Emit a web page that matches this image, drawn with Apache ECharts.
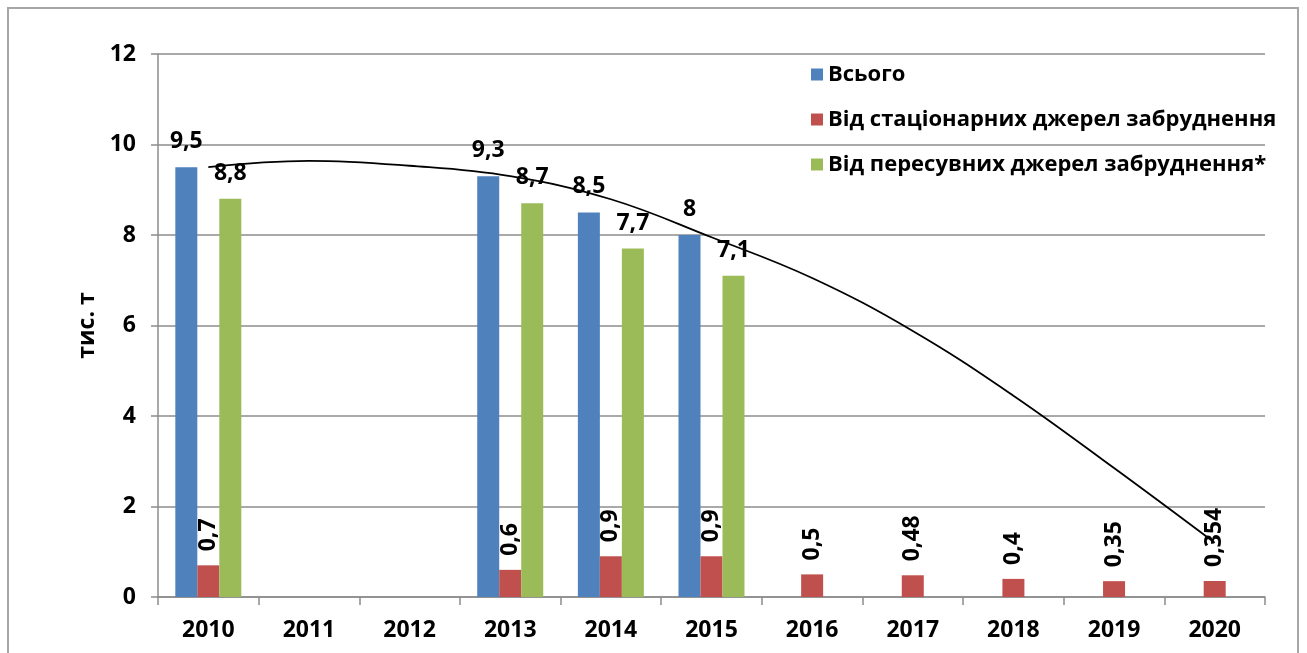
<!DOCTYPE html>
<html lang="uk">
<head>
    <meta charset="UTF-8">
    <title>Викиди</title>
    <script src="https://cdn.jsdelivr.net/npm/echarts@6/dist/echarts.min.js"></script>
    <style>
        html, body { margin: 0; padding: 0; background: #fff; }
        #frame { position: absolute; left: 7px; top: 7px; width: 1288px; height: 700px; border: 2px solid #a6a6a6; }
        #main { position: absolute; left: 0; top: 0; width: 1307px; height: 653px; }
    </style>
</head>
<body>
<div id="frame"></div>
<div id="main"></div>
<script>
    // роки
    var years = ['2010', '2011', '2012', '2013', '2014', '2015', '2016', '2017', '2018', '2019', '2020'];
    // Всього
    var totalVals = [9.5, null, null, 9.3, 8.5, 8, null, null, null, null, null];
    // Від стаціонарних джерел
    var stationaryVals = [0.7, null, null, 0.6, 0.9, 0.9, 0.5, 0.48, 0.4, 0.35, 0.354];
    // Від пересувних джерел
    var mobileVals = [8.8, null, null, 8.7, 7.7, 7.1, null, null, null, null, null];
    // лінія тренду
    var trendVals = [9.5, 9.64, 9.53, 9.3, 8.79, 7.95, 7.05, 5.88, 4.45, 2.85, 1.2];
    var yTicks = [0, 2, 4, 6, 8, 10, 12];

    var FONT = "'Open Sans', 'Noto Sans', sans-serif";
    var fmt = function (p) { return String(p.value).replace('.', ','); };

    var chart = echarts.init(document.getElementById('main'));
    var option = {
        backgroundColor: 'transparent',
        animation: false,
        textStyle: { fontFamily: FONT },
        grid: { left: 158, right: 42, top: 54, bottom: 56 },
        legend: {
            orient: 'vertical',
            left: 806,
            top: 55,
            itemWidth: 12,
            itemHeight: 12,
            itemGap: 16,
            icon: 'rect',
            data: ['Всього', 'Від стаціонарних джерел забруднення', 'Від пересувних джерел забруднення*'],
            textStyle: { fontFamily: FONT, fontWeight: 'bold', fontSize: 22, color: '#000', lineHeight: 29 }
        },
        xAxis: {
            type: 'category',
            data: years,
            axisLine: { lineStyle: { color: '#8c8c8c', width: 1.5 } },
            axisTick: { show: true, length: 8, lineStyle: { color: '#8c8c8c', width: 1.5 } },
            axisLabel: { color: '#000', fontFamily: FONT, fontWeight: 'bold', fontSize: 23, margin: 22 }
        },
        yAxis: {
            type: 'value',
            min: 0,
            max: 12,
            interval: 2,
            name: 'тис. т',
            nameLocation: 'middle',
            nameGap: 58,
            nameTextStyle: { color: '#000', fontFamily: FONT, fontWeight: 'bold', fontSize: 23 },
            axisLine: { show: true, lineStyle: { color: '#8c8c8c', width: 1.5 } },
            axisTick: { show: true, length: 7, lineStyle: { color: '#8c8c8c', width: 1.5 } },
            axisLabel: {
                color: '#000', fontFamily: FONT, fontWeight: 'bold', fontSize: 23, margin: 22,
                formatter: function (v) { return yTicks.indexOf(v) >= 0 ? String(v) : ''; }
            },
            splitLine: { lineStyle: { color: '#8c8c8c', width: 1.5 } }
        },
        series: [
            {
                name: 'Всього',
                type: 'bar',
                data: totalVals,
                barWidth: 22,
                barGap: '0%',
                itemStyle: { color: '#4F81BD' },
                label: {
                    show: true, position: 'top', distance: 14, formatter: fmt,
                    color: '#000', fontFamily: FONT, fontWeight: 'bold', fontSize: 23
                }
            },
            {
                name: 'Від стаціонарних джерел забруднення',
                type: 'bar',
                data: stationaryVals,
                barWidth: 22,
                barGap: '0%',
                itemStyle: { color: '#C0504D' },
                label: {
                    show: true, position: 'top', distance: 14, rotate: 90,
                    align: 'left', verticalAlign: 'middle', formatter: fmt,
                    color: '#000', fontFamily: FONT, fontWeight: 'bold', fontSize: 23
                }
            },
            {
                name: 'Від пересувних джерел забруднення*',
                type: 'bar',
                data: mobileVals,
                barWidth: 22,
                barGap: '0%',
                itemStyle: { color: '#9BBB59' },
                label: {
                    show: true, position: 'top', distance: 14, formatter: fmt,
                    color: '#000', fontFamily: FONT, fontWeight: 'bold', fontSize: 23
                }
            },
            {
                name: 'тренд',
                type: 'line',
                data: trendVals,
                smooth: 0.4,
                showSymbol: false,
                symbol: 'none',
                z: 5,
                lineStyle: { color: '#000', width: 1.8 },
                silent: true
            }
        ]
    };
    chart.setOption(option);
</script>
</body>
</html>
